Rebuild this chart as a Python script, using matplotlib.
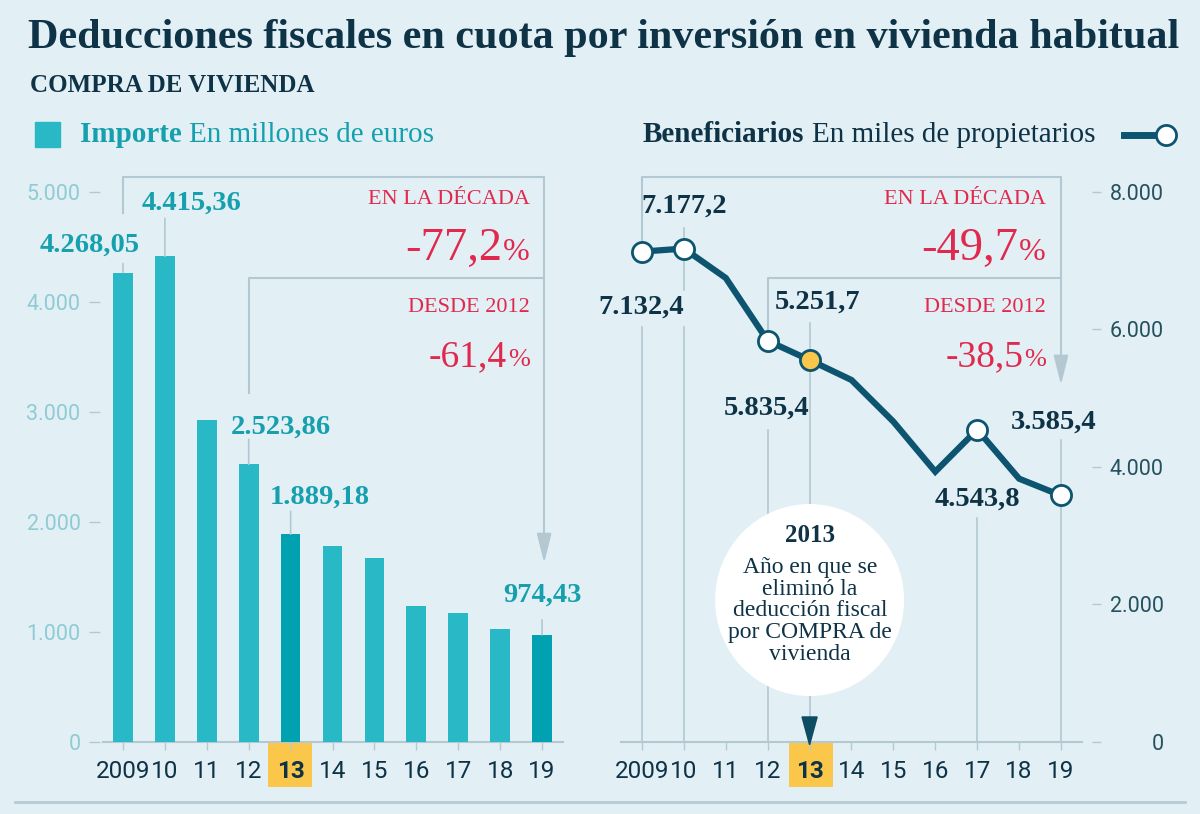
import matplotlib
matplotlib.use("Agg")
import matplotlib.pyplot as plt
from matplotlib.patches import Rectangle, Ellipse, Polygon
from matplotlib.lines import Line2D

# datos
years = ["2009", "10", "11", "12", "13", "14", "15", "16", "17", "18", "19"]
importe = [4268.05, 4415.36, 2927, 2523.86, 1889.18, 1782, 1675, 1236, 1172, 1030, 974.43]
beneficiarios = [7132.4, 7177.2, 6749, 5835.4, 5556, 5265, 4659, 3932, 4543.8, 3830, 3585.4]
importe_labels = ["4.268,05", "4.415,36", "", "2.523,86", "1.889,18", "", "", "", "", "", "974,43"]
benef_labels = ["7.132,4", "7.177,2", "", "5.835,4", "5.251,7", "", "", "", "4.543,8", "", "3.585,4"]
left_ticks = [0, 1000, 2000, 3000, 4000, 5000]
right_ticks = [0, 2000, 4000, 6000, 8000]
dark_bars = [4, 10]
ring_points = [0, 1, 3, 8, 10]
hl = 4  # 2013

BG = "#e2f0f5"
NAVY = "#0e3246"
TEAL = "#29b8c5"
TEAL_DK = "#00a2b2"
TEAL_TXT = "#16a0ae"
TEAL_LT = "#8fcbd4"
RED = "#e0294d"
LINE = "#0c5470"
YEL = "#fbc74a"
GRID = "#b3c8d2"
SERIF = "Liberation Serif"
SANS = "Roboto"

W, H = 1200, 814
fig = plt.figure(figsize=(12, 8.14), dpi=100, facecolor=BG)
renderer = fig.canvas.get_renderer()


def fx(px):
    return px / W


def fy(py):
    return 1 - py / H


def fmt(v):
    return f"{v:,.0f}".replace(",", ".")


def text_after(t, s, gap=7, **kw):
    bb = t.get_window_extent(renderer)
    return fig.text((bb.x1 + gap) / W, t.get_position()[1], s, **kw)


def pct(xr, yb, num, size, psize):
    t = fig.text(fx(xr), fy(yb), "%", fontsize=psize, color=RED, ha="right",
                 va="baseline", family=SERIF)
    w = t.get_window_extent(renderer).width
    fig.text((xr - w - 1) / W, fy(yb), num, fontsize=size, color=RED, ha="right",
             va="baseline", family=SERIF)


x = list(range(len(years)))

# ---------- titulos y leyendas ----------
fig.text(fx(28), fy(38), "Deducciones fiscales en cuota por inversión en vivienda habitual",
         fontsize=30.3, weight="bold", color=NAVY, family=SERIF, va="center")
fig.text(fx(30), fy(86), "COMPRA DE VIVIENDA", fontsize=18, weight="bold", color=NAVY,
         family=SERIF, va="center")

fig.add_artist(Rectangle((fx(35), fy(147)), 25 / W, 25 / H, transform=fig.transFigure,
                         color=TEAL))
t = fig.text(fx(80), fy(135), "Importe", fontsize=21, weight="bold", color=TEAL_TXT,
             family=SERIF, va="center")
text_after(t, "En millones de euros", fontsize=21, color=TEAL_TXT, family=SERIF, va="center")

t = fig.text(fx(643), fy(135), "Beneficiarios", fontsize=21, weight="bold", color=NAVY,
             family=SERIF, va="center")
text_after(t, "En miles de propietarios", fontsize=21, color=NAVY, family=SERIF, va="center")
fig.add_artist(Line2D([fx(1124), fx(1166)], [fy(135), fy(135)], transform=fig.transFigure,
                      lw=5, color=LINE, marker="o", markevery=[1], ms=14.5,
                      mfc="white", mec=LINE, mew=2))

fig.add_artist(Line2D([fx(15), fx(1185)], [fy(802), fy(802)], transform=fig.transFigure,
                      lw=2, color="#b7cbd4"))

# ---------- panel izquierdo: importe ----------
ax1 = fig.add_axes([fx(100), fy(742), 463 / W, 582 / H])
ax1.set_facecolor("none")
ax1.set_xlim(-0.549, 10.5)
ax1.set_ylim(0, 5291)
for s in ax1.spines.values():
    s.set_visible(False)

ax1.bar(x, importe, width=0.47, zorder=3,
        color=[TEAL_DK if i in dark_bars else TEAL for i in x])
ax1.plot([-0.477, 10.5], [0, 0], color=GRID, lw=1.5, clip_on=False, zorder=2)

ax1.set_yticks(left_ticks, [fmt(v) for v in left_ticks])
ax1.tick_params(axis="y", length=8, width=1, color=GRID, pad=6, labelcolor=TEAL_LT,
                labelsize=15.5)
ax1.set_xticks(x, years)
ax1.tick_params(axis="x", length=6, width=1, color=GRID, pad=7, labelcolor=NAVY,
                labelsize=17.5)
for lab in ax1.get_xticklabels() + ax1.get_yticklabels():
    lab.set_family(SANS)
ax1.get_xticklabels()[hl].set_fontweight("bold")
ax1.add_patch(Rectangle((3.46, -0.077), 1.05, 0.077, transform=ax1.get_xaxis_transform(),
                        clip_on=False, facecolor=YEL, edgecolor="none", zorder=0))

left_off = {0: (-33, 27, 9), 1: (27, 53, 38), 3: (32, 37, 25), 4: (29, 37, 23), 10: (0, 40, 15)}
for i, lbl in enumerate(importe_labels):
    if not lbl:
        continue
    dx, dy, lead = left_off[i]
    ax1.annotate(lbl, (i, importe[i]), xytext=(dx, dy), textcoords="offset pixels",
                 ha="center", va="center", fontsize=20.5, weight="bold", color=TEAL_TXT,
                 family=SERIF, annotation_clip=False)
    ax1.annotate("", (i, importe[i]), xytext=(0, lead), textcoords="offset pixels",
                 arrowprops=dict(arrowstyle="-", color=GRID, lw=1.2, shrinkA=0, shrinkB=0),
                 annotation_clip=False)

ax1.plot([0, 0, 10.05, 10.05], [4809, 5136, 5136, 1860], color=GRID, lw=1.5, clip_on=False)
ax1.plot([3, 3, 10.05], [3173, 4218, 4218], color=GRID, lw=1.5, clip_on=False)
ax1.annotate("", (10.05, 1627), xytext=(10.05, 1880),
             arrowprops=dict(arrowstyle="-|>,head_length=1.8,head_width=0.45", color=GRID,
                             lw=1.5, shrinkA=0, shrinkB=0), annotation_clip=False)

fig.text(fx(530), fy(200), "EN LA DÉCADA", fontsize=16, color=RED, family=SERIF,
         ha="right", va="center")
pct(530, 260, "-77,2", 33.5, 23)
fig.text(fx(530), fy(308), "DESDE 2012", fontsize=16, color=RED, family=SERIF,
         ha="right", va="center")
pct(530, 366, "-61,4", 27, 19)

# ---------- panel derecho: beneficiarios ----------
ax2 = fig.add_axes([fx(621), fy(742), 471 / W, 582 / H])
ax2.set_facecolor("none")
ax2.set_xlim(-0.501, 10.74)
ax2.set_ylim(0, 8465)
for s in ax2.spines.values():
    s.set_visible(False)

ax2.plot([-0.5, 10.5], [0, 0], color=GRID, lw=1.5, clip_on=False, zorder=2)
ax2.yaxis.tick_right()
ax2.set_yticks(right_ticks, [fmt(v) for v in right_ticks])
ax2.tick_params(axis="y", length=6.5, width=1, color=GRID, pad=45, labelcolor="#24505f",
                labelsize=15.5)
for lab in ax2.get_yticklabels():
    lab.set_ha("right")
ax2.set_xticks(x, years)
ax2.tick_params(axis="x", length=6, width=1, color=GRID, pad=7, labelcolor=NAVY,
                labelsize=17.5)
for lab in ax2.get_xticklabels() + ax2.get_yticklabels():
    lab.set_family(SANS)
ax2.get_xticklabels()[hl].set_fontweight("bold")
ax2.add_patch(Rectangle((3.51, -0.077), 1.05, 0.077, transform=ax2.get_xaxis_transform(),
                        clip_on=False, facecolor=YEL, edgecolor="none", zorder=0))

# lineas verticales de referencia
vsegs = [(0, 0, 6036), (1, 0, 6036), (1, 6575, 7176), (3, 0, 4538), (4, 0, 6095),
         (8, 0, 3258), (10, 0, 4393)]
for i, lo, hi in vsegs:
    ax2.plot([i, i], [lo, hi], color=GRID, lw=1.2, zorder=1, clip_on=False)
ax2.plot([1, 1], [7177.2, 7476], color=GRID, lw=1.2, zorder=1)

ax2.plot([0, 0, 10, 10], [7273, 8218, 8218, 5580], color=GRID, lw=1.5, clip_on=False)
ax2.plot([3, 3, 10], [5993, 6749, 6749], color=GRID, lw=1.5, clip_on=False)
ax2.annotate("", (10, 5193), xytext=(10, 5600),
             arrowprops=dict(arrowstyle="-|>,head_length=1.8,head_width=0.45", color=GRID,
                             lw=1.5, shrinkA=0, shrinkB=0), annotation_clip=False)

ax2.plot(x, beneficiarios, color=LINE, lw=4.5, zorder=3, solid_joinstyle="miter",
         clip_on=False)
ax2.plot([x[i] for i in ring_points], [beneficiarios[i] for i in ring_points], "o",
         ms=14.5, mfc="white", mec=LINE, mew=2, zorder=4, clip_on=False)
ax2.plot([x[hl]], [beneficiarios[hl]], "o", ms=14.5, mfc=YEL, mec=LINE, mew=2, zorder=4)

right_off = {0: (-1, -56), 1: (0, 42), 3: (-1, -67), 4: (8, 58), 8: (0, -70), 10: (-7, 73)}
for i, lbl in enumerate(benef_labels):
    if not lbl:
        continue
    dx, dy = right_off[i]
    ax2.annotate(lbl, (i, beneficiarios[i]), xytext=(dx, dy), textcoords="offset pixels",
                 ha="center", va="center", fontsize=20.5, weight="bold", color=NAVY,
                 family=SERIF, annotation_clip=False)

ax2.add_patch(Ellipse((4, 2065), 4.51, 2793, facecolor="white", edgecolor="none", zorder=5,
                      clip_on=False))
ax2.add_patch(Polygon([(3.82, 364), (4.18, 364), (4, -40)], closed=True, color="#0d4d62",
                      zorder=6, clip_on=False))
fig.text(fx(810), fy(535), "2013", fontsize=18, weight="bold", color=NAVY, family=SERIF,
         ha="center", va="center", zorder=7)
fig.text(fx(810), fy(611), "Año en que se\neliminó la\ndeducción fiscal\npor COMPRA de\nvivienda",
         fontsize=17, color=NAVY, family=SERIF, ha="center", va="center",
         linespacing=1.04, zorder=7)

fig.text(fx(1046), fy(200), "EN LA DÉCADA", fontsize=16, color=RED, family=SERIF,
         ha="right", va="center")
pct(1046, 260, "-49,7", 33.5, 23)
fig.text(fx(1046), fy(308), "DESDE 2012", fontsize=16, color=RED, family=SERIF,
         ha="right", va="center")
pct(1046, 366, "-38,5", 27, 19)

fig.savefig("out.png", dpi=100, facecolor=BG)
